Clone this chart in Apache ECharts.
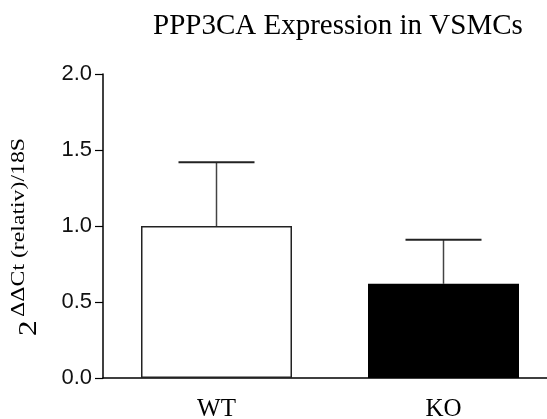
<!DOCTYPE html>
<html>
<head>
<meta charset="utf-8">
<script src="https://cdn.jsdelivr.net/npm/echarts@6/dist/echarts.min.js"></script>
<style>html,body{margin:0;padding:0;background:#fff}#c{width:547px;height:419px}</style>
</head>
<body>
<div id="c"></div>
<script>
var categories = ['WT', 'KO'];
var means = [1.0, 0.62];
var errorTops = [1.42, 0.91];
var yTicks = [0, 0.5, 1.0, 1.5, 2.0];
var titleText = 'PPP3CA Expression in VSMCs';

var chart = echarts.init(document.getElementById('c'));
var serif = '"Liberation Serif", "Times New Roman", serif';
var sans = '"Liberation Sans", Arial, Helvetica, sans-serif';

chart.setOption({
  animation: false,
  title: {
    text: titleText, left: 148, top: 7,
    textStyle: {fontFamily: serif, fontSize: 29, fontWeight: 'normal', color: '#000'}
  },
  grid: {left: 103, top: 74, width: 454, height: 304, outerBoundsMode: 'none', containLabel: false},
  xAxis: {
    type: 'category', data: categories,
    axisLine: {lineStyle: {color: '#000', width: 1.5}},
    axisTick: {alignWithLabel: true, length: 7, lineStyle: {color: '#000', width: 1.2}},
    axisLabel: {fontFamily: serif, fontSize: 25, color: '#000', margin: 19}
  },
  yAxis: {
    type: 'value', min: yTicks[0], max: yTicks[yTicks.length - 1], interval: 0.5,
    axisLine: {show: true, lineStyle: {color: '#000', width: 1.5}},
    axisTick: {show: true, length: 8, lineStyle: {color: '#000', width: 1.2}},
    splitLine: {show: false},
    axisLabel: {fontFamily: sans, fontSize: 22, color: '#111', margin: 11,
      formatter: function (v) { return v.toFixed(1); }}
  },
  series: [
    {
      type: 'custom',
      z: 1,
      data: categories.map(function (c, i) { return [i, means[i], errorTops[i]]; }),
      renderItem: function (params, api) {
        var i = api.value(0);
        var m = api.coord([i, api.value(1)]);
        var t = api.coord([i, api.value(2)]);
        var half = 38;
        return {
          type: 'group',
          children: [
            {type: 'line', shape: {x1: m[0], y1: m[1], x2: t[0], y2: t[1]},
             style: {stroke: '#444', lineWidth: 1.5}},
            {type: 'line', shape: {x1: t[0] - half, y1: t[1], x2: t[0] + half, y2: t[1]},
             style: {stroke: '#222', lineWidth: 2}}
          ]
        };
      }
    },
    {
      type: 'bar',
      z: 2,
      barWidth: 151,
      data: means.map(function (v, i) {
        return {
          value: v,
          itemStyle: i === 0
            ? {color: '#fff', borderColor: '#222', borderWidth: 1.5}
            : {color: '#000', borderColor: '#000', borderWidth: 0}
        };
      })
    }
  ],
  graphic: [
    {
      type: 'group', x: 42, y: 336, rotation: Math.PI / 2,
      children: [
        {type: 'text', x: 0, y: 0, scaleX: 1.25,
         style: {text: '2', font: '25px ' + serif, fill: '#000', textVerticalAlign: 'bottom', verticalAlign: 'bottom'}},
        {type: 'text', x: 19, y: -13, scaleX: 1.25,
         style: {text: 'ΔΔCt (relativ)/18S', font: '19px ' + serif, fill: '#000', textVerticalAlign: 'bottom', verticalAlign: 'bottom'}}
      ]
    }
  ]
});
</script>
</body>
</html>
